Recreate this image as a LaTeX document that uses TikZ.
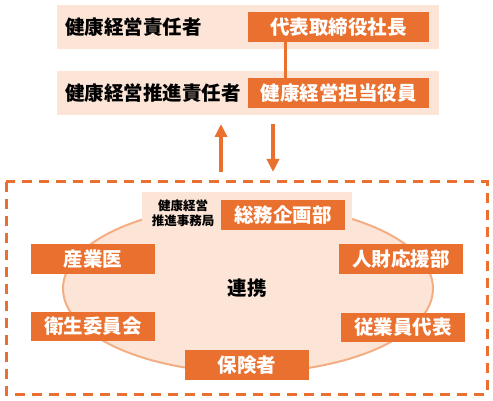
\documentclass[tikz,border=0pt]{standalone}
\usepackage{fontspec}
\setmainfont{Noto Sans CJK JP}
\usetikzlibrary{arrows.meta}
\definecolor{kOrange}{HTML}{E9702F}
\definecolor{kPink}{HTML}{FCE4D6}
\definecolor{kRim}{HTML}{F3AE84}

\begin{document}
\begin{tikzpicture}[x=1pt,y=-1pt,
    obox/.style={fill=kOrange,text=white,font=\fontsize{19.5}{21}\selectfont\bfseries,
        minimum width=124pt,minimum height=30pt,inner sep=0pt},
    wbox/.style={obox,minimum width=181pt},
    lbl/.style={anchor=west,font=\fontsize{19.5}{21}\selectfont\bfseries,inner sep=0pt},
    bigarrow/.style={kOrange,line width=4.5pt,-{Triangle[width=12pt,length=13pt]}}]
    \useasboundingbox (0,0) rectangle (493,401);
    % top two rows
    \fill[kPink] (57,5) rectangle (439,49);
    \fill[kPink] (57,71) rectangle (439,115);
    \node[lbl] (head) at (65,27) {健康経営責任者};
    \node[wbox] (ceo) at (338.5,27) {代表取締役社長};
    \node[lbl] (promo) at (65,93) {健康経営推進責任者};
    \node[wbox] (officer) at (338.5,93) {健康経営担当役員};
    \coordinate (lk) at (285,0);
    \draw[kOrange,line width=3pt] (ceo.south -| lk) -- (officer.north -| lk);
    % arrows between the parts
    \coordinate (upA) at (221,172);
    \coordinate (upB) at (221,124);
    \coordinate (dnA) at (273,124);
    \coordinate (dnB) at (273,172);
    \draw[bigarrow] (upA) -- (upB);
    \draw[bigarrow] (dnA) -- (dnB);
    % dashed frame and ellipse
    \draw[kOrange,line width=3pt,dash pattern=on 10pt off 7pt] (6,182) rectangle (487,394);
    \draw[kRim,fill=kPink,line width=2pt] (248,288.5) ellipse [x radius=185,y radius=84];
    \fill[kPink] (142,192) rectangle (352,231);
    \node[align=center,font=\fontsize{12.5}{15}\selectfont\bfseries,inner sep=0pt] (office) at (183,213.5) {健康経営\\推進事務局};
    \node[obox] (soumu) at (283,215) {総務企画部};
    \node[obox] (doctor) at (93,259) {産業医};
    \node[obox] (jinzai) at (401,259) {人財応援部};
    \node[obox,minimum height=29pt] (eisei) at (93,326.5) {衛生委員会};
    \node[obox,minimum height=29pt] (staff) at (403,327.5) {従業員代表};
    \node[obox] (insurer) at (247,365) {保険者};
    \node[font=\fontsize{19.5}{21}\selectfont\bfseries] (link) at (247,288) {連携};
\end{tikzpicture}
\end{document}
